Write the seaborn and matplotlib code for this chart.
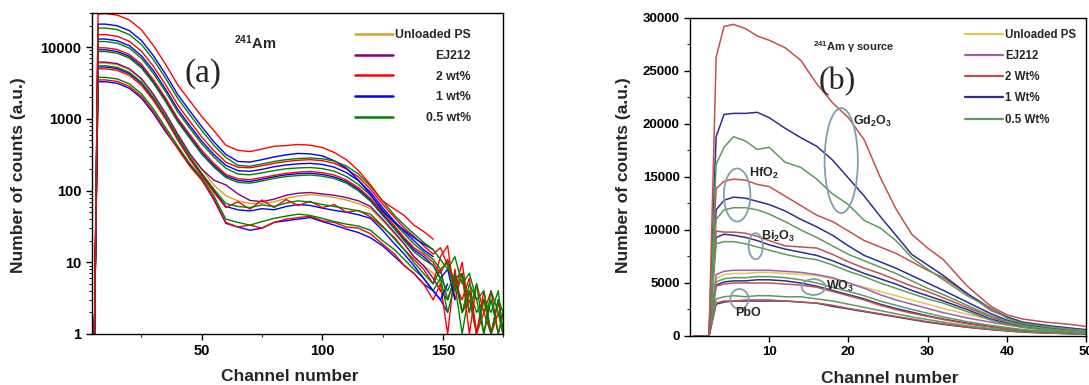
import numpy as np
import pandas as pd
import matplotlib
matplotlib.use('Agg')
import matplotlib.pyplot as plt
import seaborn as sns
from matplotlib.lines import Line2D
from matplotlib.patches import Ellipse
from matplotlib.ticker import FixedLocator, MultipleLocator, LogLocator, NullFormatter, FuncFormatter

# ---------------- Panel (a): log-scale spectra ----------------
ch_a = [5.5, 7, 10, 15, 20, 25, 30, 35, 40, 45, 50, 55, 60, 65, 70, 75, 80, 85, 90, 95, 100,
        105, 110, 115, 120, 125, 130, 134, 138, 142, 146, 149, 152, 155, 158, 161, 164, 167,
        170, 173, 175]

a_unloaded = [1, 6000, 6000, 5700, 4860, 3540, 2140, 1170, 600, 320, 200, 120, 85, 72, 66, 66, 70,
              78, 84, 88, 85, 80, 74, 66, 56, 38, 25, 18, 12, 9, 7, 5, 3, 6, 2, 4, 1, 3, 1, 2, 1]
a_ej212 = [1, 6200, 6200, 5900, 5000, 3650, 2200, 1200, 620, 330, 200, 140, 120, 90, 73, 70, 76,
           86, 92, 94, 90, 86, 80, 72, 60, 40, 26, 18, 12, 9, 6, 4, 3, 6, 7, 2]
a_gd_2 = [1, 29000, 29500, 28000, 24000, 17500, 10500, 5800, 3000, 1800, 1080, 690, 430, 365, 350,
          380, 415, 425, 440, 430, 400, 340, 270, 190, 120, 72, 55, 45, 33, 27, 21]
a_gd_1 = [1, 21000, 21000, 19900, 17000, 12400, 7600, 4200, 2200, 1300, 780, 480, 320, 255, 250,
          270, 295, 315, 330, 325, 305, 260, 205, 140, 88, 52, 36, 28, 22, 18, 15]
a_gd_05 = [1, 18500, 18500, 17600, 15000, 10900, 6700, 3700, 1950, 1150, 690, 430, 290, 225, 218,
           235, 255, 270, 280, 285, 278, 258, 220, 170, 115, 72, 45, 33, 25, 19, 15,
           11, 8, 12, 5, 7, 3, 4, 1, 3, 2]
a_hf_2 = [1, 15000, 15000, 14200, 12100, 8800, 5400, 3000, 1580, 930, 560, 360, 250, 212, 208, 222,
          240, 255, 265, 270, 262, 240, 200, 155, 105, 65, 42, 30, 23, 17, 13, 16, 9, 4, 10, 2]
a_hf_1 = [1, 13000, 13000, 12300, 10500, 7600, 4700, 2600, 1370, 810, 490, 320, 225, 190, 186, 198,
          215, 228, 236, 240, 232, 212, 178, 138, 95, 58, 37, 27, 20, 15, 12]
a_hf_05 = [1, 12000, 12000, 11400, 9700, 7000, 4300, 2400, 1260, 745, 450, 295, 205, 170, 166, 177,
           190, 202, 207, 210, 203, 186, 157, 122, 86, 54, 35, 25, 18, 14, 11,
           8, 10, 4, 7, 2, 5, 1, 3, 1, 2]
a_bi_2 = [1, 9800, 9800, 9300, 7900, 5800, 3500, 1960, 1030, 610, 365, 240, 168, 146, 142, 152, 163,
          174, 181, 185, 178, 165, 140, 110, 78, 50, 32, 22, 16, 13, 10, 7, 11, 5, 3, 6, 1, 4, 1, 2, 1]
a_bi_1 = [1, 9200, 9200, 8700, 7450, 5430, 3300, 1840, 965, 570, 340, 225, 160, 138, 134, 144, 156,
          166, 172, 175, 168, 155, 133, 104, 74, 47, 30, 21, 15, 12, 9, 6, 8, 3]
a_bi_05 = [1, 8700, 8700, 8250, 7050, 5130, 3130, 1740, 915, 540, 322, 213, 152, 130, 127, 136, 148,
           157, 162, 165, 159, 147, 127, 99, 71, 45, 29, 20, 14, 11, 9, 6, 4, 7, 2, 5, 3, 1, 4, 2, 1]
a_w_2 = [1, 5000, 5000, 4750, 4050, 2950, 1800, 1000, 510, 275, 160, 95, 58, 70, 55, 74, 58, 75, 62,
         71, 58, 64, 50, 53, 43, 31, 22, 15, 11, 8, 5, 12, 17, 3, 7, 1, 5, 2, 1, 3, 1]
a_w_1 = [1, 5300, 5300, 5030, 4290, 3130, 1900, 1040, 540, 290, 168, 100, 60, 54, 52, 56, 54, 60, 64,
         62, 57, 53, 50, 46, 41, 28, 18, 13, 9, 6, 4, 3, 5]
a_w_05 = [1, 5500, 5500, 5230, 4450, 3250, 1980, 1080, 560, 300, 175, 105, 66, 60, 58, 63, 60, 67,
          72, 69, 64, 60, 56, 52, 47, 32, 21, 15, 10, 7, 5, 8, 3, 6, 2, 4, 1, 3, 2, 4, 1]
a_pb_2 = [1, 3500, 3500, 3330, 2840, 2070, 1260, 700, 385, 220, 140, 78, 36, 31, 33, 30, 36, 40, 42,
          44, 38, 36, 31, 30, 25, 18, 13, 9, 7, 5, 3, 5, 1, 8, 2, 3, 1, 2, 4, 1, 2]
a_pb_1 = [1, 3300, 3300, 3140, 2670, 1950, 1190, 660, 400, 230, 142, 75, 35, 31, 28, 30, 36, 38, 40,
          42, 37, 33, 29, 26, 22, 17, 12, 9, 7, 5, 4, 3, 2]
a_pb_05 = [1, 3800, 3800, 3610, 3080, 2240, 1370, 760, 420, 240, 150, 85, 40, 36, 33, 37, 41, 44, 47,
           45, 41, 37, 34, 32, 28, 20, 15, 11, 8, 6, 4, 6, 2, 5, 1, 4, 2, 3, 1, 3, 1]

# ---------------- Panel (b): linear-scale spectra ----------------
ch_b = [0.5, 2.4, 3.3, 4.3, 5.5, 7, 8.5, 10, 12, 14, 16, 18, 20, 22, 24, 26, 28, 30, 32, 35, 38,
        40, 42, 45, 48, 50]

b_unloaded = [0, 0, 5400, 5800, 5900, 5900, 6000, 6000, 5900, 5800, 5700, 5400, 5000, 4600, 4200,
              3800, 3400, 3000, 2600, 2050, 1550, 1250, 1000, 780, 600, 500]
b_ej212 = [0, 0, 5800, 6100, 6200, 6200, 6200, 6200, 6100, 6000, 5800, 5500, 5000, 4500, 3900, 3400,
           3000, 2600, 2200, 1700, 1300, 1050, 850, 650, 500, 420]
b_gd_2 = [0, 0, 26300, 29200, 29400, 29000, 28300, 27900, 27200, 26000, 23800, 22000, 20600, 18500,
          15000, 12000, 9600, 8300, 7200, 4700, 2800, 2000, 1600, 1300, 1100, 900]
b_gd_1 = [0, 0, 18800, 20900, 21000, 21000, 21100, 20600, 19600, 18700, 17900, 16600, 14900, 13200,
          11300, 9500, 7700, 6700, 5700, 4000, 2600, 1800, 1300, 1000, 750, 600]
b_gd_05 = [0, 0, 16200, 17800, 18800, 18400, 17600, 17800, 16400, 15900, 14800, 13400, 12400, 10900,
           10200, 9000, 7400, 6300, 5300, 3800, 2600, 1700, 1200, 900, 650, 500]
b_hf_2 = [0, 0, 13900, 14600, 14800, 14700, 14300, 14100, 13200, 12300, 11400, 10800, 9900, 9000,
          8400, 7800, 7000, 6200, 5500, 4000, 2400, 1800, 1300, 900, 650, 500]
b_hf_1 = [0, 0, 11900, 12800, 13100, 13000, 12700, 12400, 11800, 11000, 10300, 9500, 8500, 7600,
          7000, 6400, 5700, 5000, 4300, 3200, 2100, 1500, 1100, 800, 550, 400]
b_hf_05 = [0, 0, 11000, 11900, 12100, 12100, 11900, 11500, 10800, 10000, 9300, 8500, 7700, 7100,
           6500, 5900, 5200, 4500, 3900, 2900, 1900, 1400, 1000, 700, 480, 350]
b_bi_2 = [0, 0, 9900, 9800, 9800, 9700, 9400, 9000, 8500, 8400, 8300, 7700, 7000, 6400, 5900, 5300,
          4700, 4200, 3600, 2700, 1800, 1300, 950, 700, 480, 350]
b_bi_1 = [0, 0, 9300, 9600, 9500, 9300, 9000, 8600, 8200, 7900, 7600, 7100, 6500, 5900, 5400, 4900,
          4300, 3800, 3300, 2500, 1600, 1200, 850, 600, 420, 300]
b_bi_05 = [0, 0, 8700, 8900, 8900, 8700, 8400, 8100, 7700, 7400, 7200, 6700, 6100, 5600, 5000, 4500,
           4000, 3500, 3100, 2300, 1500, 1100, 800, 560, 400, 280]
b_w_2 = [0, 0, 4700, 4900, 5000, 5000, 5000, 5000, 4900, 4800, 4600, 4200, 3800, 3400, 2900, 2500,
         2150, 1850, 1550, 1150, 850, 680, 520, 380, 290, 230]
b_w_1 = [0, 0, 4800, 5100, 5200, 5200, 5300, 5300, 5200, 5000, 4700, 4300, 3900, 3500, 3000, 2600,
         2250, 1900, 1600, 1200, 880, 700, 530, 400, 300, 240]
b_w_05 = [0, 0, 5100, 5400, 5500, 5500, 5600, 5600, 5500, 5300, 5000, 4600, 4200, 3800, 3300, 2900,
          2500, 2150, 1800, 1350, 1000, 800, 600, 450, 350, 280]
b_pb_2 = [0, 0, 3100, 3300, 3300, 3400, 3400, 3400, 3300, 3200, 3100, 2900, 2600, 2350, 2100, 1850,
          1600, 1350, 1150, 850, 620, 500, 380, 290, 220, 175]
b_pb_1 = [0, 0, 3000, 3200, 3300, 3300, 3300, 3300, 3300, 3200, 3100, 2800, 2550, 2300, 2050, 1800,
          1550, 1300, 1100, 820, 600, 480, 370, 280, 210, 170]
b_pb_05 = [0, 0, 3500, 3700, 3800, 3700, 3800, 3800, 3700, 3700, 3500, 3300, 3000, 2700, 2400, 2100,
           1800, 1550, 1300, 950, 700, 560, 430, 320, 240, 190]

legend_a = ['Unloaded PS', 'EJ212', '2 wt%', '1 wt%', '0.5 wt%']
legend_b = ['Unloaded PS', 'EJ212', '2 Wt%', '1 Wt%', '0.5 Wt%']
oxide_labels = ['Gd$_2$O$_3$', 'HfO$_2$', 'Bi$_2$O$_3$', 'WO$_3$', 'PbO']
oxide_label_pos = [(20.6, 20240), (7.4, 15360), (9.0, 9380), (17.2, 4720), (5.7, 2140)]
ellipses_b = [(19.1, 16550, 4.2, 9900), (5.95, 13300, 3.35, 5000), (8.3, 8470, 1.8, 2450),
              (15.6, 4620, 3.0, 1500), (6.25, 3490, 2.3, 1880)]

col_a = {'unl': '#d9a21b', 'ej': '#800080', '2': '#ff0000', '1': '#0000ff', '05': '#008000'}
col_b = {'unl': '#e6c558', 'ej': '#a35fae', '2': '#c4504e', '1': '#2e2e90', '05': '#5b9c5b'}

series_a = [('Unloaded', 'unl', a_unloaded), ('EJ212', 'ej', a_ej212),
            ('PbO 1', '1', a_pb_1), ('PbO 2', '2', a_pb_2), ('PbO 0.5', '05', a_pb_05),
            ('WO3 1', '1', a_w_1), ('WO3 2', '2', a_w_2), ('WO3 0.5', '05', a_w_05),
            ('Bi 1', '1', a_bi_1), ('Bi 2', '2', a_bi_2), ('Bi 0.5', '05', a_bi_05),
            ('Hf 1', '1', a_hf_1), ('Hf 2', '2', a_hf_2), ('Hf 0.5', '05', a_hf_05),
            ('Gd 1', '1', a_gd_1), ('Gd 0.5', '05', a_gd_05), ('Gd 2', '2', a_gd_2)]
series_b = [('Unloaded', 'unl', b_unloaded), ('EJ212', 'ej', b_ej212),
            ('PbO 1', '1', b_pb_1), ('PbO 2', '2', b_pb_2), ('PbO 0.5', '05', b_pb_05),
            ('WO3 1', '1', b_w_1), ('WO3 2', '2', b_w_2), ('WO3 0.5', '05', b_w_05),
            ('Bi 1', '1', b_bi_1), ('Bi 2', '2', b_bi_2), ('Bi 0.5', '05', b_bi_05),
            ('Hf 1', '1', b_hf_1), ('Hf 2', '2', b_hf_2), ('Hf 0.5', '05', b_hf_05),
            ('Gd 1', '1', b_gd_1), ('Gd 0.5', '05', b_gd_05), ('Gd 2', '2', b_gd_2)]


def build(series, ch):
    rows = []
    for name, key, vals in series:
        for x, v in zip(ch, vals):
            rows.append((name, x, v))
    return pd.DataFrame(rows, columns=['curve', 'ch', 'counts'])


df_a = build(series_a, ch_a)
df_b = build(series_b, ch_b)
pal_a = {name: col_a[key] for name, key, _ in series_a}
pal_b = {name: col_b[key] for name, key, _ in series_b}

sns.set_theme(style='ticks')
plt.rcParams['font.family'] = ['Liberation Sans', 'DejaVu Sans']
plt.rcParams['font.weight'] = 'bold'
plt.rcParams['axes.labelweight'] = 'bold'
plt.rcParams['mathtext.fontset'] = 'custom'
plt.rcParams['mathtext.rm'] = 'Liberation Sans:bold'
plt.rcParams['mathtext.it'] = 'Liberation Sans:bold'
plt.rcParams['mathtext.bf'] = 'Liberation Sans:bold'
plt.rcParams['mathtext.default'] = 'rm'
plt.rcParams['axes.edgecolor'] = 'black'
plt.rcParams['axes.linewidth'] = 1.0

fig = plt.figure(figsize=(10.89, 3.85), dpi=100)
ax_a = fig.add_axes([0.0845, 0.1325, 0.3775, 0.8337])
ax_b = fig.add_axes([0.6336, 0.1273, 0.3636, 0.8260])

# ---- panel a ----
sns.lineplot(data=df_a, x='ch', y='counts', hue='curve', hue_order=[s[0] for s in series_a],
             palette=pal_a, estimator=None, sort=False, legend=False, linewidth=1.0, ax=ax_a)
ax_a.set_yscale('log')
ax_a.set_xlim(4.5, 175)
ax_a.set_ylim(1, 30000)
ax_a.yaxis.set_major_locator(FixedLocator([1, 10, 100, 1000, 10000]))
ax_a.yaxis.set_major_formatter(FuncFormatter(lambda v, p: f'{int(round(v))}'))
ax_a.yaxis.set_minor_locator(LogLocator(base=10, subs=range(2, 10)))
ax_a.yaxis.set_minor_formatter(NullFormatter())
ax_a.xaxis.set_major_locator(FixedLocator([50, 100, 150]))
ax_a.xaxis.set_minor_locator(MultipleLocator(25))
ax_a.tick_params(which='major', direction='out', length=4, width=1, labelsize=10.5, colors='black')
ax_a.tick_params(which='minor', direction='out', length=2.5, width=0.8)
ax_a.set_xlabel('Channel number', fontsize=12.5, fontweight='bold')
ax_a.set_ylabel('Number of counts (a.u.)', fontsize=12.5, fontweight='bold')
ax_a.xaxis.set_label_coords(0.48, -0.108)
ax_a.yaxis.set_label_coords(-0.16, 0.495)
ax_a.text(0.345, 0.906, r'$^{241}$Am', transform=ax_a.transAxes, fontsize=10.5,
          fontweight='bold', ha='left', va='center')
ax_a.text(0.27, 0.81, '(a)', transform=ax_a.transAxes, fontsize=24, fontweight='normal',
          family='Liberation Serif', ha='center', va='center')

handles_a = [Line2D([], [], color=col_a[k], lw=1.8) for k in ['unl', 'ej', '2', '1', '05']]
leg_a = ax_a.legend(handles_a, legend_a, loc='upper left', bbox_to_anchor=(0.64, 0.95),
                    frameon=False, borderpad=0, borderaxespad=0, handlelength=3.1,
                    handletextpad=0.5, labelspacing=0.72, prop={'size': 8.8, 'weight': 'bold'})

# ---- panel b ----
sns.lineplot(data=df_b, x='ch', y='counts', hue='curve', hue_order=[s[0] for s in series_b],
             palette=pal_b, estimator=None, sort=False, legend=False, linewidth=1.1, ax=ax_b)
ax_b.set_xlim(0, 50)
ax_b.set_ylim(0, 30000)
ax_b.yaxis.set_major_locator(MultipleLocator(5000))
ax_b.yaxis.set_minor_locator(MultipleLocator(2500))
ax_b.xaxis.set_major_locator(FixedLocator([10, 20, 30, 40, 50]))
ax_b.tick_params(which='major', direction='out', length=4, width=1, labelsize=9.5, colors='black')
ax_b.tick_params(which='minor', direction='out', length=2.5, width=0.8)
ax_b.set_xlabel('Channel number', fontsize=12.5, fontweight='bold')
ax_b.set_ylabel('Number of counts (a.u.)', fontsize=12.5, fontweight='bold')
ax_b.xaxis.set_label_coords(0.505, -0.11)
ax_b.yaxis.set_label_coords(-0.148, 0.505)
ax_b.text(0.31, 0.91, r'$^{241}$Am $\gamma$ source', transform=ax_b.transAxes, fontsize=8,
          fontweight='bold', ha='left', va='center')
ax_b.text(0.373, 0.80, '(b)', transform=ax_b.transAxes, fontsize=23, fontweight='normal',
          family='Liberation Serif', ha='center', va='center')
for (cx, cy, w, h) in ellipses_b:
    ax_b.add_patch(Ellipse((cx, cy), w, h, fill=False, edgecolor='#7f9fae', lw=1.3, zorder=5))
for lab, (x, y) in zip(oxide_labels, oxide_label_pos):
    ax_b.text(x, y, lab, fontsize=9, fontweight='bold', ha='left', va='center', zorder=6)

handles_b = [Line2D([], [], color=col_b[k], lw=1.6) for k in ['unl', 'ej', '2', '1', '05']]
ax_b.legend(handles_b, legend_b, loc='upper left', bbox_to_anchor=(0.694, 0.966),
            frameon=False, borderpad=0, borderaxespad=0, handlelength=3.3,
            handletextpad=0.2, labelspacing=0.8, prop={'size': 8.3, 'weight': 'bold'})

# right-align legend labels of panel (a)
fig.canvas.draw()
inv = ax_a.transAxes.inverted()
for t in leg_a.get_texts():
    bb = t.get_window_extent()
    yc = inv.transform(((bb.x0 + bb.x1) / 2, (bb.y0 + bb.y1) / 2))[1]
    ax_a.text(0.922, yc, t.get_text(), transform=ax_a.transAxes, ha='right', va='center',
              fontsize=8.8, fontweight='bold')
    t.set_visible(False)

fig.savefig('out.png', dpi=100, facecolor='white')
